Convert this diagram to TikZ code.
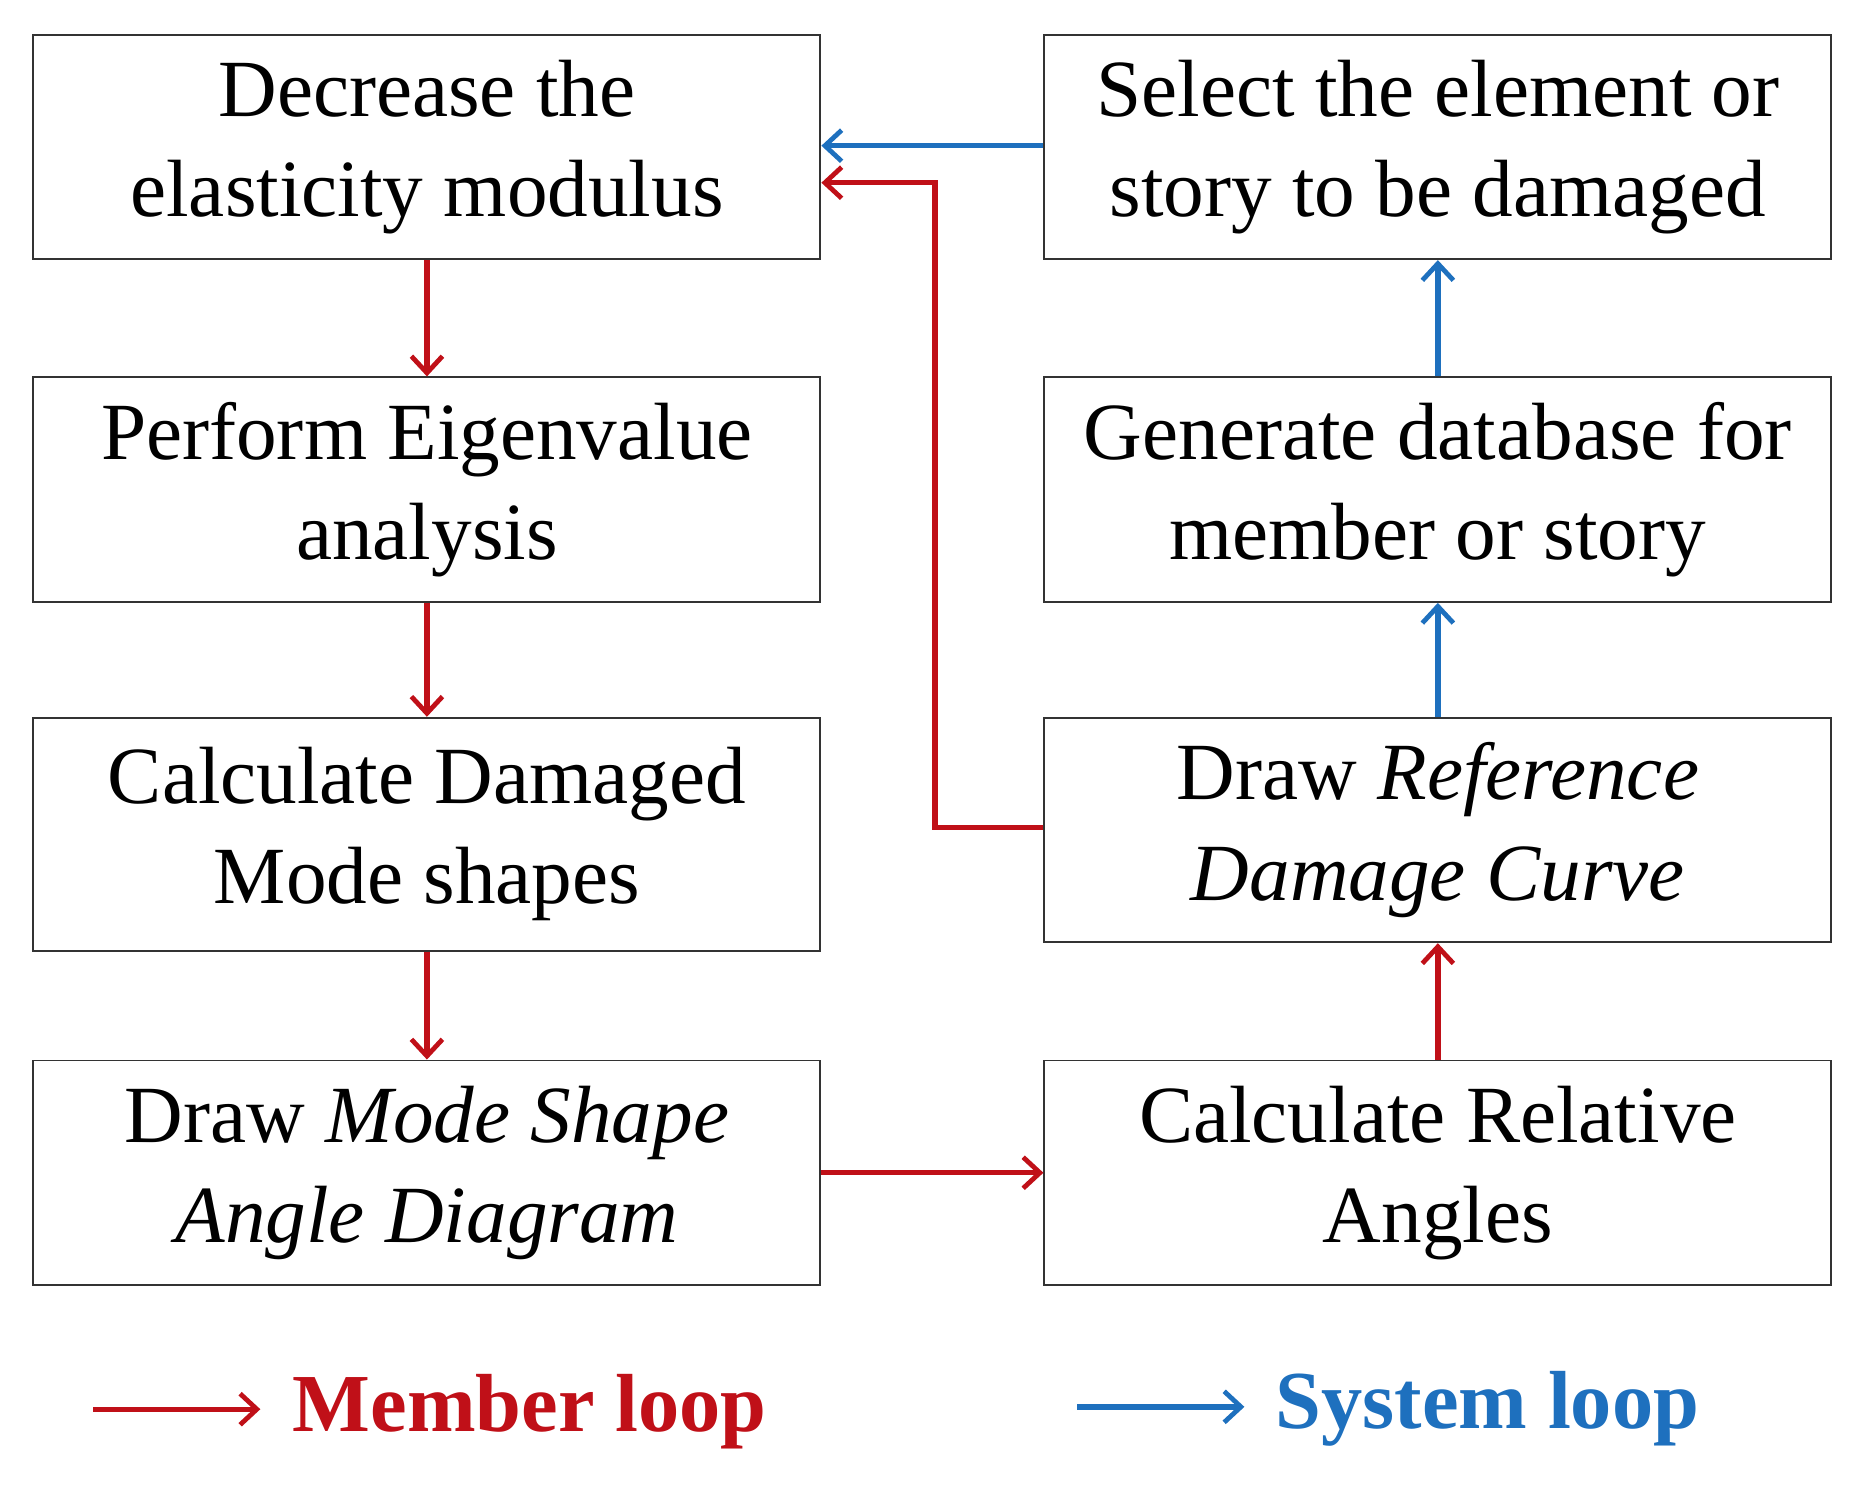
\documentclass[tikz,border=0pt]{standalone}
\usepackage{fontspec}
\setmainfont{Liberation Serif}
\usetikzlibrary{arrows.meta}
\definecolor{myred}{RGB}{192,16,24}
\definecolor{myblue}{RGB}{30,112,190}
\begin{document}
\begin{tikzpicture}[x=1pt,y=-1pt,
  box/.style={draw=black!80,line width=1.6pt,minimum width=659pt,inner sep=0pt,align=center,
    font=\fontsize{68}{84}\selectfont},
  rarr/.style={draw=myred,line width=4.5pt,-{Straight Barb[length=14pt,width=26pt,line width=4pt]}},
  barr/.style={draw=myblue,line width=4.5pt,-{Straight Barb[length=14pt,width=26pt,line width=4pt]}}]
\useasboundingbox (0,0) rectangle (1560,1243);
\node[box,minimum height=188pt] (a) at (357.5,123) {Decrease the\\elasticity modulus};
\node[box,minimum height=188pt] (b) at (357.5,410) {Perform Eigenvalue\\analysis};
\node[box,minimum height=195pt] (c) at (357.5,698.5) {Calculate Damaged\\Mode shapes};
\node[box,minimum height=188pt] (d) at (357.5,982) {Draw \textit{Mode Shape}\\\textit{Angle Diagram}};
\node[box,minimum height=188pt] (e) at (1204,123) {Select the element or\\story to be damaged};
\node[box,minimum height=188pt] (f) at (1204,410) {Generate database for\\member or story};
\node[box,minimum height=188pt] (g) at (1204,695) {Draw \textit{Reference}\\\textit{Damage Curve}};
\node[box,minimum height=188pt] (h) at (1204,982) {Calculate Relative\\Angles};
\draw[rarr] (a) -- (b);
\draw[rarr] (b) -- (c);
\draw[rarr] (c) -- (d);
\draw[rarr] (d.east) -- (h.west);
\draw[rarr] (h) -- (g);
\draw[barr] (g) -- (f);
\draw[barr] (f) -- (e);
\draw[barr] (e.west |- 0,122) -- (a.east |- 0,122);
\coordinate (k1) at (783,693);
\coordinate (k2) at (783,153);
\draw[rarr] (g.west |- k1) -- (k1) -- (k2) -- (a.east |- k2);
\coordinate (l1) at (78,1180); \coordinate (l2) at (218,1180);
\draw[rarr] (l1) -- (l2);
\node[anchor=west,text=myred,font=\fontsize{69}{80}\selectfont\bfseries,inner sep=0pt] (lm) at (245,1182) {Member loop};
\coordinate (l3) at (902,1178); \coordinate (l4) at (1042,1178);
\draw[barr] (l3) -- (l4);
\node[anchor=west,text=myblue,font=\fontsize{69}{80}\selectfont\bfseries,inner sep=0pt] (ls) at (1068,1180) {System loop};
\end{tikzpicture}
\end{document}
